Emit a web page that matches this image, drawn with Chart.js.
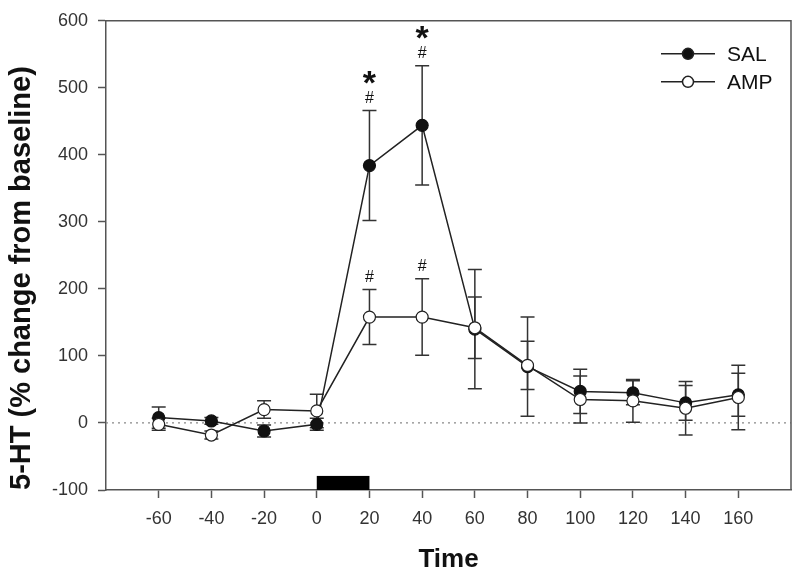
<!DOCTYPE html>
<html>
<head>
<meta charset="utf-8">
<script src="https://cdn.jsdelivr.net/npm/chart.js@4.4.0/dist/chart.umd.min.js"></script>
<style>
  html, body { margin: 0; padding: 0; background: #fff; }
  #wrap { width: 800px; height: 577px; }
</style>
</head>
<body>
<div id="wrap"><canvas id="chart"></canvas></div>
<script>
const times = [-60, -40, -20, 0, 20, 40, 60, 80, 100, 120, 140, 160];
const salMean = [8, 3, -12, -2, 384, 444, 140, 84, 47, 45, 30, 42];
const salErr = [16, 5, 9, 9, 82, 89, 89, 74, 33, 18, 26, 32];
const ampMean = [-2, -18, 20, 18, 158, 158, 142, 86, 35, 33, 22, 38];
const ampErr = [9, 6, 13, 25, 41, 57, 46, 36, 35, 32, 40, 48];
const yTicks = [-100, 0, 100, 200, 300, 400, 500, 600];
const xTicks = [-60, -40, -20, 0, 20, 40, 60, 80, 100, 120, 140, 160];
// significance marks (time points)
const salStar = [20, 40];
const salHash = [20, 40];
const ampHash = [20, 40];
// drug infusion bar
const infusion = [0, 20];
const infusionTop = -79;

const FONT = "'Liberation Sans', Arial, sans-serif";
const AXIS = "#555";

const ctx = document.getElementById("chart").getContext("2d");

const extras = {
  id: "extras",
  beforeDatasetsDraw(chart) {
    const { ctx, chartArea: a, scales: { x, y } } = chart;
    ctx.save();
    // zero line
    ctx.strokeStyle = "#888";
    ctx.lineWidth = 1.2;
    ctx.setLineDash([2, 4]);
    ctx.beginPath();
    ctx.moveTo(a.left, y.getPixelForValue(0));
    ctx.lineTo(a.right, y.getPixelForValue(0));
    ctx.stroke();
    ctx.setLineDash([]);
    // frame top / right
    ctx.strokeStyle = AXIS;
    ctx.lineWidth = 1.5;
    ctx.beginPath();
    ctx.moveTo(a.left, a.top);
    ctx.lineTo(a.right, a.top);
    ctx.lineTo(a.right, a.bottom);
    ctx.stroke();
    // infusion bar
    ctx.fillStyle = "#000";
    const x0 = x.getPixelForValue(infusion[0]), x1 = x.getPixelForValue(infusion[1]);
    const yt = y.getPixelForValue(infusionTop), yb = y.getPixelForValue(-100);
    ctx.fillRect(x0, yt, x1 - x0, yb - yt);
    // error bars
    ctx.strokeStyle = "#333";
    ctx.lineWidth = 1.5;
    [[salMean, salErr], [ampMean, ampErr]].forEach(([m, e]) => {
      times.forEach((t, i) => {
        const px = x.getPixelForValue(t);
        const hi = y.getPixelForValue(m[i] + e[i]);
        const lo = y.getPixelForValue(m[i] - e[i]);
        ctx.beginPath();
        ctx.moveTo(px, hi); ctx.lineTo(px, lo);
        ctx.moveTo(px - 7, hi); ctx.lineTo(px + 7, hi);
        ctx.moveTo(px - 7, lo); ctx.lineTo(px + 7, lo);
        ctx.stroke();
      });
    });
    ctx.restore();
  },
  afterDraw(chart) {
    const { ctx, chartArea: a, scales: { x, y } } = chart;
    ctx.save();
    ctx.fillStyle = "#111";
    ctx.textAlign = "center";
    ctx.textBaseline = "middle";
    const topOf = (m, e, t) => y.getPixelForValue(m[times.indexOf(t)] + e[times.indexOf(t)]);
    ctx.font = "16px " + FONT;
    salHash.forEach(t => ctx.fillText("#", x.getPixelForValue(t), topOf(salMean, salErr, t) - 12));
    ampHash.forEach(t => ctx.fillText("#", x.getPixelForValue(t), topOf(ampMean, ampErr, t) - 12));
    ctx.font = "bold 34px " + FONT;
    ctx.textBaseline = "alphabetic";
    salStar.forEach(t => ctx.fillText("*", x.getPixelForValue(t), topOf(salMean, salErr, t) - 17));

    // legend
    const items = [["SAL", "#111"], ["AMP", "#fff"]];
    items.forEach(([label, fill], i) => {
      const ly = a.top + 33 + i * 28;
      ctx.strokeStyle = "#222";
      ctx.lineWidth = 1.5;
      ctx.beginPath();
      ctx.moveTo(a.right - 130, ly);
      ctx.lineTo(a.right - 76, ly);
      ctx.stroke();
      ctx.beginPath();
      ctx.arc(a.right - 103, ly, 5.5, 0, Math.PI * 2);
      ctx.fillStyle = fill;
      ctx.fill();
      ctx.stroke();
      ctx.fillStyle = "#111";
      ctx.font = "21px " + FONT;
      ctx.textAlign = "left";
      ctx.textBaseline = "middle";
      ctx.fillText(label, a.right - 64, ly + 1);
    });
    ctx.restore();
  }
};

new Chart(ctx, {
  type: "line",
  data: {
    labels: times,
    datasets: [
      {
        label: "SAL",
        data: times.map((t, i) => ({ x: t, y: salMean[i] })),
        borderColor: "#222",
        borderWidth: 1.5,
        pointRadius: 6,
        pointBackgroundColor: "#111",
        pointBorderColor: "#111",
        pointBorderWidth: 1.2,
        tension: 0,
        order: 1,
      },
      {
        label: "AMP",
        data: times.map((t, i) => ({ x: t, y: ampMean[i] })),
        borderColor: "#222",
        borderWidth: 1.5,
        pointRadius: 6,
        pointBackgroundColor: "#fff",
        pointBorderColor: "#222",
        pointBorderWidth: 1.2,
        tension: 0,
        order: 0,
      },
    ],
  },
  options: {
    responsive: true,
    maintainAspectRatio: false,
    animation: false,
    layout: { padding: { left: 0, right: 9, top: 14, bottom: 0 } },
    plugins: {
      legend: { display: false },
      tooltip: { enabled: false },
    },
    scales: {
      x: {
        type: "linear",
        min: -80,
        max: 180,
        afterBuildTicks: (s) => { s.ticks = xTicks.map(v => ({ value: v })); },
        afterFit: (s) => { s.height = 87; },
        ticks: {
          stepSize: 20,
          color: "#333",
          font: { family: FONT, size: 18 },
          padding: 10,
          maxRotation: 0,
        },
        grid: { drawOnChartArea: false, tickLength: 8, tickColor: AXIS, tickWidth: 1.5 },
        border: { color: AXIS, width: 1.5 },
        title: {
          display: true,
          text: "Time",
          color: "#111",
          font: { family: FONT, size: 26, weight: "bold" },
          padding: { top: 0, bottom: 2 },
        },
      },
      y: {
        min: -100,
        max: 600,
        afterBuildTicks: (s) => { s.ticks = yTicks.map(v => ({ value: v })); },
        afterFit: (s) => { s.width = 106; },
        ticks: {
          color: "#333",
          font: { family: FONT, size: 18 },
          padding: 10,
        },
        grid: { drawOnChartArea: false, tickLength: 8, tickColor: AXIS, tickWidth: 1.5 },
        border: { color: AXIS, width: 1.5 },
        title: {
          display: true,
          text: "5-HT (% change from baseline)",
          align: "start",
          color: "#111",
          font: { family: FONT, size: 29, weight: "bold" },
          padding: { top: 5, bottom: 0 },
        },
      },
    },
  },
  plugins: [extras],
});
</script>
</body>
</html>
